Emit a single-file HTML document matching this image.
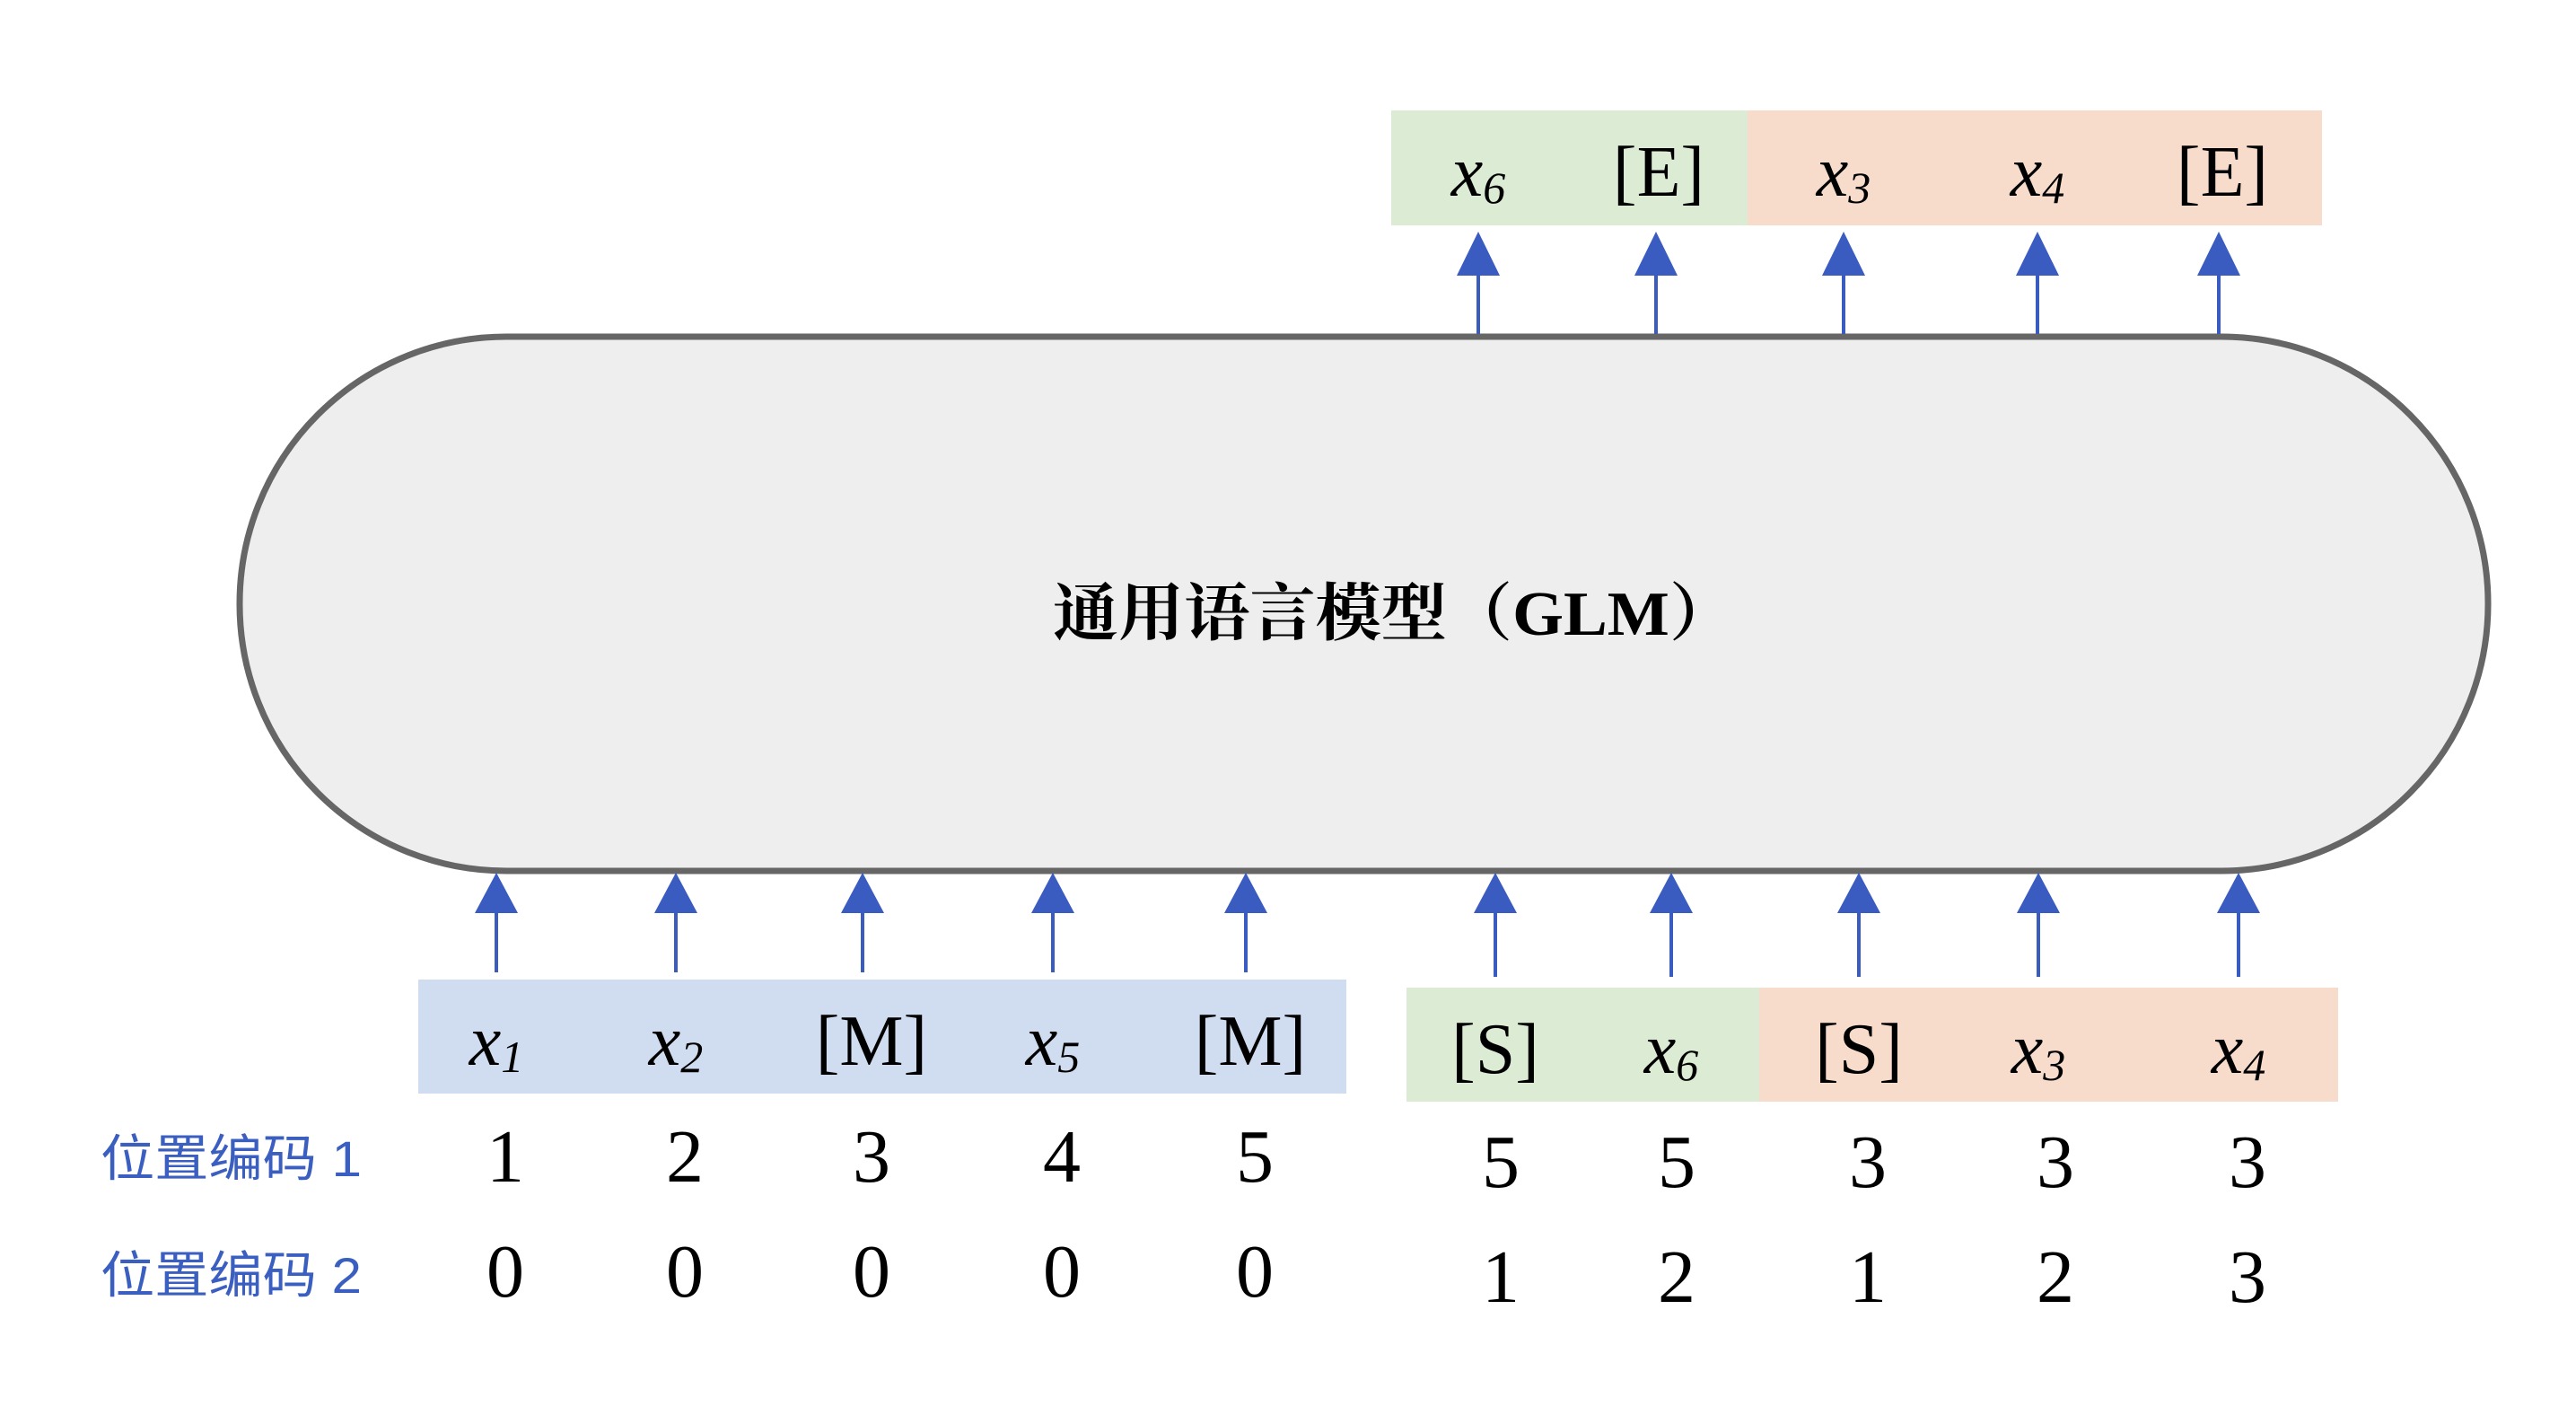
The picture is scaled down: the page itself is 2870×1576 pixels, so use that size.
<!DOCTYPE html>
<html><head><meta charset="utf-8"><style>
html,body{margin:0;padding:0;background:#fff;}
svg{display:block;}
.s{font-family:"Liberation Serif","Noto Serif CJK SC",serif;fill:#000;}
.b{font-family:"Liberation Sans","Noto Sans CJK SC",sans-serif;fill:#3a5fc0;}
</style></head><body>
<svg width="2870" height="1576" viewBox="0 0 2870 1576" xmlns="http://www.w3.org/2000/svg">
<rect x="1550" y="123" width="397" height="128" fill="#dcebd3"/>
<rect x="1947" y="123" width="640" height="128" fill="#f8dccb"/>
<rect x="267" y="375" width="2505" height="595" rx="297" ry="297" fill="#eeeeee" stroke="#666" stroke-width="7"/>
<text class="s" x="1553" y="707" font-size="70" font-weight="bold" text-anchor="middle" textLength="760" lengthAdjust="spacingAndGlyphs">通用语言模型（GLM）</text>
<rect x="466" y="1091" width="1034" height="127" fill="#d0dcf0"/>
<rect x="1567" y="1100" width="393" height="127" fill="#dcebd3"/>
<rect x="1960" y="1100" width="645" height="127" fill="#f8dccb"/>
<g stroke="#3a5bbf" stroke-width="4" fill="#3a5bbf">
<line x1="1647" y1="372" x2="1647" y2="300"/><polygon points="1647,258 1623,307 1671,307" stroke="none"/>
<line x1="1845" y1="372" x2="1845" y2="300"/><polygon points="1845,258 1821,307 1869,307" stroke="none"/>
<line x1="2054" y1="372" x2="2054" y2="300"/><polygon points="2054,258 2030,307 2078,307" stroke="none"/>
<line x1="2270" y1="372" x2="2270" y2="300"/><polygon points="2270,258 2246,307 2294,307" stroke="none"/>
<line x1="2472" y1="372" x2="2472" y2="300"/><polygon points="2472,258 2448,307 2496,307" stroke="none"/>
<line x1="553" y1="1083" x2="553" y2="1010"/><polygon points="553,972 529,1017 577,1017" stroke="none"/>
<line x1="753" y1="1083" x2="753" y2="1010"/><polygon points="753,972 729,1017 777,1017" stroke="none"/>
<line x1="961" y1="1083" x2="961" y2="1010"/><polygon points="961,972 937,1017 985,1017" stroke="none"/>
<line x1="1173" y1="1083" x2="1173" y2="1010"/><polygon points="1173,972 1149,1017 1197,1017" stroke="none"/>
<line x1="1388" y1="1083" x2="1388" y2="1010"/><polygon points="1388,972 1364,1017 1412,1017" stroke="none"/>
<line x1="1666" y1="1088" x2="1666" y2="1010"/><polygon points="1666,972 1642,1017 1690,1017" stroke="none"/>
<line x1="1862" y1="1088" x2="1862" y2="1010"/><polygon points="1862,972 1838,1017 1886,1017" stroke="none"/>
<line x1="2071" y1="1088" x2="2071" y2="1010"/><polygon points="2071,972 2047,1017 2095,1017" stroke="none"/>
<line x1="2271" y1="1088" x2="2271" y2="1010"/><polygon points="2271,972 2247,1017 2295,1017" stroke="none"/>
<line x1="2494" y1="1088" x2="2494" y2="1010"/><polygon points="2494,972 2470,1017 2518,1017" stroke="none"/>
</g>
<g class="s" font-size="80" text-anchor="middle">
<text x="1647" y="218"><tspan font-style="italic">x</tspan><tspan font-style="italic" font-size="50" dy="8">6</tspan></text>
<text x="1848" y="218">[E]</text>
<text x="2054" y="218"><tspan font-style="italic">x</tspan><tspan font-style="italic" font-size="50" dy="8">3</tspan></text>
<text x="2270" y="218"><tspan font-style="italic">x</tspan><tspan font-style="italic" font-size="50" dy="8">4</tspan></text>
<text x="2476" y="218">[E]</text>
<text x="553" y="1186"><tspan font-style="italic">x</tspan><tspan font-style="italic" font-size="50" dy="8">1</tspan></text>
<text x="753" y="1186"><tspan font-style="italic">x</tspan><tspan font-style="italic" font-size="50" dy="8">2</tspan></text>
<text x="971" y="1186">[M]</text>
<text x="1173" y="1186"><tspan font-style="italic">x</tspan><tspan font-style="italic" font-size="50" dy="8">5</tspan></text>
<text x="1393" y="1186">[M]</text>
<text x="1666" y="1195">[S]</text>
<text x="1862" y="1195"><tspan font-style="italic">x</tspan><tspan font-style="italic" font-size="50" dy="8">6</tspan></text>
<text x="2071" y="1195">[S]</text>
<text x="2271" y="1195"><tspan font-style="italic">x</tspan><tspan font-style="italic" font-size="50" dy="8">3</tspan></text>
<text x="2494" y="1195"><tspan font-style="italic">x</tspan><tspan font-style="italic" font-size="50" dy="8">4</tspan></text>
</g>
<g class="s" font-size="84" text-anchor="middle">
<text x="563" y="1316">1</text><text x="763" y="1316">2</text><text x="971" y="1316">3</text><text x="1183" y="1316">4</text><text x="1398" y="1316">5</text>
<text x="1672" y="1322">5</text><text x="1868" y="1322">5</text><text x="2081" y="1322">3</text><text x="2290" y="1322">3</text><text x="2504" y="1322">3</text>
<text x="563" y="1444">0</text><text x="763" y="1444">0</text><text x="971" y="1444">0</text><text x="1183" y="1444">0</text><text x="1398" y="1444">0</text>
<text x="1672" y="1450">1</text><text x="1868" y="1450">2</text><text x="2081" y="1450">1</text><text x="2290" y="1450">2</text><text x="2504" y="1450">3</text>
</g>
<text class="b" x="112" y="1310" font-size="56" textLength="291" lengthAdjust="spacingAndGlyphs">位置编码 1</text>
<text class="b" x="112" y="1440" font-size="56" textLength="291" lengthAdjust="spacingAndGlyphs">位置编码 2</text>
</svg>
</body></html>
